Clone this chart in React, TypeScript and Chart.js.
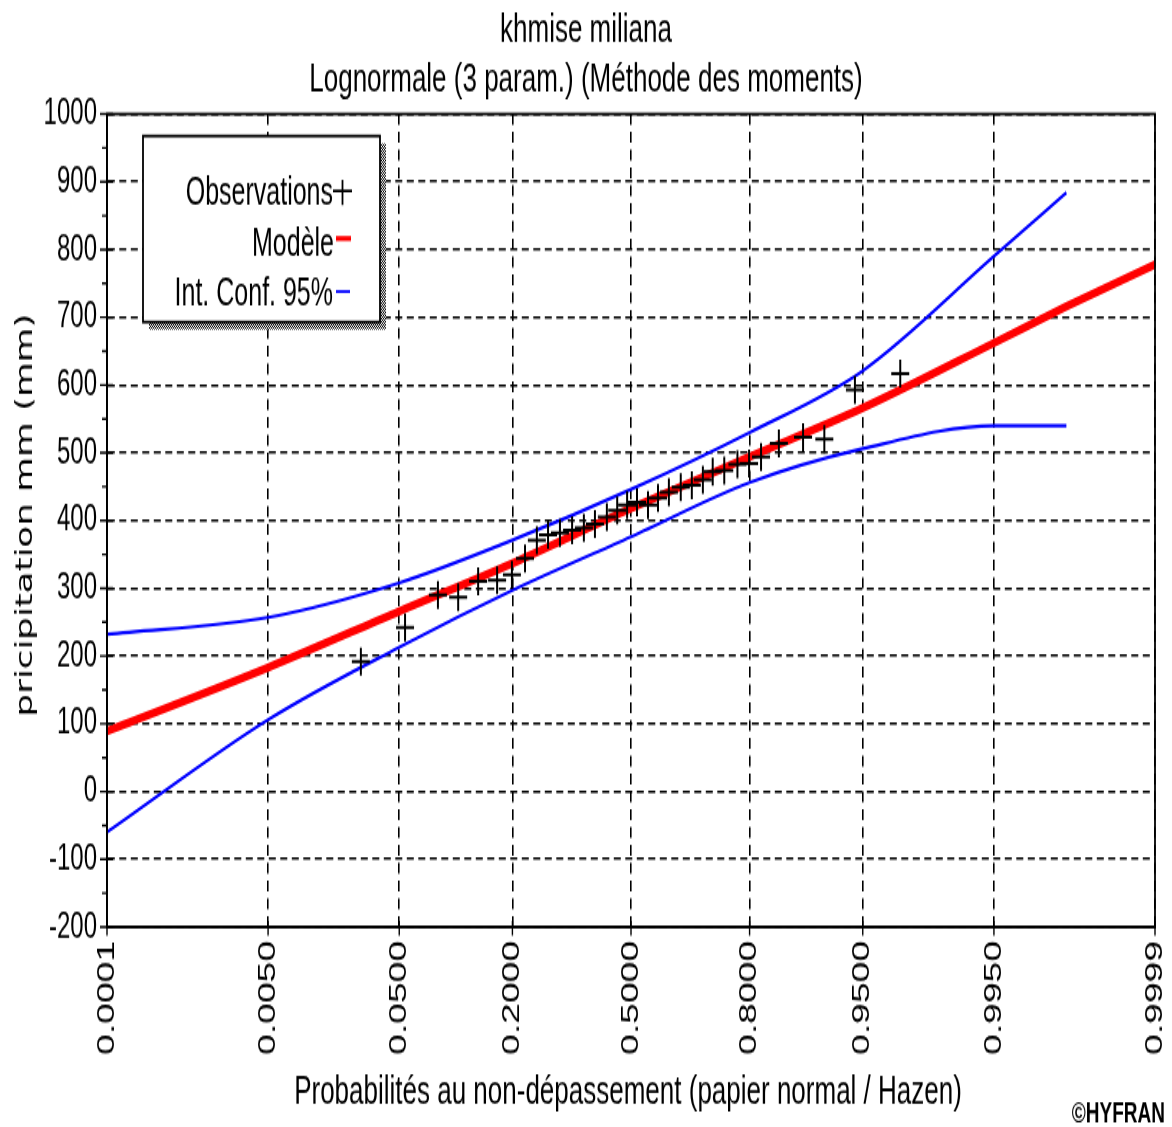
import React, { useEffect, useRef } from 'react';
import { Chart, registerables } from 'chart.js';

Chart.register(...registerables);

// ---------- texts ----------
const TITLE_LINES = ['khmise miliana', 'Lognormale (3 param.) (Méthode des moments)'];
const X_TITLE = 'Probabilités au non-dépassement (papier normal / Hazen)';
const Y_TITLE = 'pricipitation mm (mm)';
const CREDIT = '©HYFRAN';
const LEGEND_LABELS = ['Observations', 'Modèle', 'Int. Conf. 95%'];

// ---------- axes ----------
const X_TICK_P = [0.0001, 0.005, 0.05, 0.2, 0.5, 0.8, 0.95, 0.995, 0.9999];
const X_TICK_LABELS = ['0.0001', '0.0050', '0.0500', '0.2000', '0.5000', '0.8000', '0.9500', '0.9950', '0.9999'];
const Y_MIN = -200;
const Y_MAX = 1000;
const Y_STEP = 100;
const Y_MINOR = 50;

// ---------- data (probability of non-exceedance, value in mm) ----------
const OBS_P = [0.0276, 0.0544, 0.0853, 0.110, 0.139, 0.171, 0.199, 0.226, 0.252, 0.278, 0.307, 0.338, 0.369, 0.399, 0.432, 0.461, 0.489, 0.517, 0.548, 0.576, 0.606, 0.638, 0.667, 0.695, 0.719, 0.746, 0.775, 0.799, 0.822, 0.853, 0.889, 0.915, 0.944, 0.972];
const OBS_Y = [192, 242, 290, 287, 310, 312, 320, 344, 371, 379, 382, 386, 389, 395, 405, 415, 423, 427, 423, 433, 442, 449, 452, 460, 472, 474, 483, 484, 494, 514, 523, 520, 593, 617];

const MODEL_P = [0.0001, 0.005, 0.05, 0.2, 0.5, 0.8, 0.95, 0.995, 0.999, 0.9999];
const MODEL_Y = [89, 183, 266, 337, 418, 494, 566, 662, 716, 778];

const UPPER_P = [0.0001, 0.005, 0.05, 0.2, 0.5, 0.8, 0.95, 0.995, 0.999];
const UPPER_Y = [232, 257, 308, 371, 446, 530, 621, 790, 884];

const LOWER_P = [0.0001, 0.005, 0.05, 0.2, 0.5, 0.8, 0.95, 0.995, 0.999];
const LOWER_Y = [-60, 106, 213, 297, 376, 456, 506, 540, 540];

// ---------- layout ----------
const W = 1172;
const SCREEN_H = 1127;
const CANVAS_H = 727;
const S = SCREEN_H / CANVAS_H; // vertical stretch of the original picture
const sy = (y: number) => y / S;
const FONT = '"Liberation Sans", Arial, sans-serif';

// inverse standard normal CDF (normal probability paper)
function probit(p: number): number {
  const a = [-3.969683028665376e1, 2.209460984245205e2, -2.759285104469687e2, 1.38357751867269e2, -3.066479806614716e1, 2.506628277459239];
  const b = [-5.447609879822406e1, 1.615858368580409e2, -1.556989798598866e2, 6.680131188771972e1, -1.328068155288572e1];
  const c = [-7.784894002430293e-3, -3.223964580411365e-1, -2.400758277161838, -2.549671010243992, 4.374664141464968, 2.938163982698783];
  const d = [7.784695709041462e-3, 3.224671290700398e-1, 2.445134137142996, 3.754408661907416];
  const pl = 0.02425;
  if (p < pl) {
    const q = Math.sqrt(-2 * Math.log(p));
    return (((((c[0] * q + c[1]) * q + c[2]) * q + c[3]) * q + c[4]) * q + c[5]) / ((((d[0] * q + d[1]) * q + d[2]) * q + d[3]) * q + 1);
  }
  if (p > 1 - pl) {
    const q = Math.sqrt(-2 * Math.log(1 - p));
    return -(((((c[0] * q + c[1]) * q + c[2]) * q + c[3]) * q + c[4]) * q + c[5]) / ((((d[0] * q + d[1]) * q + d[2]) * q + d[3]) * q + 1);
  }
  const q = p - 0.5;
  const r = q * q;
  return ((((((a[0] * r + a[1]) * r + a[2]) * r + a[3]) * r + a[4]) * r + a[5]) * q) / (((((b[0] * r + b[1]) * r + b[2]) * r + b[3]) * r + b[4]) * r + 1);
}

const toPts = (ps: number[], ys: number[]) => ps.map((p, i) => ({ x: probit(p), y: ys[i] }));

const decorPlugin = {
  id: 'decor',
  afterDraw(chart: any) {
    const { ctx, chartArea: ca, scales } = chart;
    const xs = scales.x;
    const ys = scales.y;
    ctx.save();
    ctx.setLineDash([]);
    ctx.strokeStyle = '#000';
    ctx.fillStyle = '#000';

    // frame
    ctx.lineWidth = 1.8;
    ctx.strokeRect(ca.left, ca.top, ca.right - ca.left, ca.bottom - ca.top);

    // tick marks
    ctx.lineWidth = 1.4;
    ctx.beginPath();
    for (let v = Y_MIN; v <= Y_MAX; v += Y_STEP) {
      const y = ys.getPixelForValue(v);
      ctx.moveTo(ca.left - 7, y);
      ctx.lineTo(ca.left + 6, y);
    }
    for (let v = Y_MIN + Y_MINOR; v < Y_MAX; v += Y_STEP) {
      const y = ys.getPixelForValue(v);
      ctx.moveTo(ca.left - 5, y);
      ctx.lineTo(ca.left, y);
    }
    X_TICK_P.forEach((p) => {
      const x = xs.getPixelForValue(probit(p));
      ctx.moveTo(x, ca.bottom - 4);
      ctx.lineTo(x, ca.bottom + 5.5);
    });
    ctx.stroke();

    // titles
    ctx.textBaseline = 'alphabetic';
    ctx.textAlign = 'center';
    ctx.font = `26px ${FONT}`;
    ctx.fillText(TITLE_LINES[0], W / 2, sy(42));
    ctx.fillText(TITLE_LINES[1], W / 2, sy(92));
    ctx.fillText(X_TITLE, 628, sy(1104));

    ctx.save();
    ctx.translate(32, sy(515));
    ctx.rotate(-Math.PI / 2);
    ctx.font = '23px "DejaVu Sans", Verdana, sans-serif';
    ctx.fillText(Y_TITLE, 0, 0);
    ctx.restore();

    ctx.textAlign = 'right';
    ctx.font = `bold 19px ${FONT}`;
    ctx.fillText(CREDIT, 1165, sy(1122));

    // legend box
    const lx0 = 143, lx1 = 380, ly0 = sy(136), ly1 = sy(322);
    const pc = document.createElement('canvas');
    pc.width = 2; pc.height = 2;
    const pctx = pc.getContext('2d')!;
    pctx.fillStyle = '#fff'; pctx.fillRect(0, 0, 2, 2);
    pctx.fillStyle = '#000'; pctx.fillRect(0, 0, 1, 1); pctx.fillRect(1, 1, 1, 1);
    ctx.fillStyle = ctx.createPattern(pc, 'repeat');
    ctx.fillRect(lx0 + 6, ly0 + sy(7.5), lx1 - lx0, ly1 - ly0);
    ctx.fillStyle = '#fff';
    ctx.fillRect(lx0, ly0, lx1 - lx0, ly1 - ly0);
    ctx.lineWidth = 1.8;
    ctx.strokeStyle = '#000';
    ctx.strokeRect(lx0, ly0, lx1 - lx0, ly1 - ly0);

    ctx.fillStyle = '#000';
    ctx.font = `25px ${FONT}`;
    ctx.textAlign = 'right';
    ctx.fillText(LEGEND_LABELS[0], 333, sy(204));
    ctx.fillText(LEGEND_LABELS[1], 334, sy(256));
    ctx.fillText(LEGEND_LABELS[2], 333, sy(306));

    // legend markers
    ctx.lineWidth = 1.8;
    ctx.beginPath();
    ctx.moveTo(333, sy(191));
    ctx.lineTo(352, sy(191));
    ctx.moveTo(342.5, sy(180));
    ctx.lineTo(342.5, sy(205));
    ctx.stroke();
    ctx.fillStyle = '#ff0000';
    ctx.fillRect(336, sy(238.5) - 1.6, 15, 3.2);
    ctx.strokeStyle = '#0000ff';
    ctx.lineWidth = 1.8;
    ctx.beginPath();
    ctx.moveTo(336, sy(291.5));
    ctx.lineTo(350, sy(291.5));
    ctx.stroke();

    ctx.restore();
  },
};

export default function App() {
  const ref = useRef<HTMLCanvasElement>(null);

  useEffect(() => {
    const canvas = ref.current;
    if (!canvas) return;
    const tickFont = { family: FONT, size: 24 };
    const chart = new Chart(canvas, {
      type: 'scatter',
      data: {
        datasets: [
          {
            type: 'scatter',
            label: LEGEND_LABELS[0],
            data: toPts(OBS_P, OBS_Y),
            pointStyle: 'cross',
            pointRadius: 9,
            borderColor: '#000',
            backgroundColor: '#000',
            borderWidth: 2,
            showLine: false,
          } as any,
          {
            type: 'line',
            label: LEGEND_LABELS[1],
            data: toPts(MODEL_P, MODEL_Y),
            borderColor: '#ff0000',
            borderWidth: 5.5,
            pointRadius: 0,
            fill: false,
            cubicInterpolationMode: 'monotone',
          } as any,
          {
            type: 'line',
            label: LEGEND_LABELS[2],
            data: toPts(UPPER_P, UPPER_Y),
            borderColor: '#0000ff',
            borderWidth: 2.2,
            pointRadius: 0,
            fill: false,
            cubicInterpolationMode: 'monotone',
          } as any,
          {
            type: 'line',
            label: LEGEND_LABELS[2] + ' inf',
            data: toPts(LOWER_P, LOWER_Y),
            borderColor: '#0000ff',
            borderWidth: 2.2,
            pointRadius: 0,
            fill: false,
            cubicInterpolationMode: 'monotone',
          } as any,
        ],
      },
      options: {
        animation: false,
        responsive: false,
        devicePixelRatio: 1,
        events: [],
        layout: { padding: { top: sy(114), right: W - 1155, left: 0, bottom: 0 } },
        plugins: { legend: { display: false }, title: { display: false }, tooltip: { enabled: false } },
        scales: {
          x: {
            type: 'linear',
            min: probit(X_TICK_P[0]),
            max: probit(X_TICK_P[X_TICK_P.length - 1]),
            afterBuildTicks: (scale: any) => {
              scale.ticks = X_TICK_P.map((p) => ({ value: probit(p) }));
            },
            afterFit: (scale: any) => {
              scale.height = CANVAS_H - sy(927);
              scale.paddingLeft = 0;
              scale.paddingRight = 0;
            },
            ticks: {
              autoSkip: false,
              minRotation: 90,
              maxRotation: 90,
              padding: 9,
              color: '#000',
              font: tickFont,
              callback: (_v: any, i: number) => X_TICK_LABELS[i],
            },
            grid: { color: '#000', lineWidth: 1.6, drawTicks: false },
            border: { display: true, color: '#000', width: 1.8, dash: [7, 4.5] },
          },
          y: {
            type: 'linear',
            min: Y_MIN,
            max: Y_MAX,
            afterFit: (scale: any) => {
              scale.width = 107;
              scale.paddingTop = 0;
              scale.paddingBottom = 0;
            },
            ticks: {
              stepSize: Y_STEP,
              padding: 10,
              color: '#000',
              font: tickFont,
              callback: (v: any) => String(v),
            },
            grid: { color: '#000', lineWidth: 1.6, drawTicks: false },
            border: { display: true, color: '#000', width: 1.8, dash: [7, 4.5] },
          },
        },
      } as any,
      plugins: [decorPlugin as any],
    });
    return () => chart.destroy();
  }, []);

  return (
    <div style={{ position: 'absolute', left: 0, top: 0, width: W, height: SCREEN_H, background: '#fff' }}>
      <canvas
        ref={ref}
        width={W}
        height={CANVAS_H}
        style={{ display: 'block', width: `${W}px`, height: `${SCREEN_H}px` }}
      />
    </div>
  );
}
